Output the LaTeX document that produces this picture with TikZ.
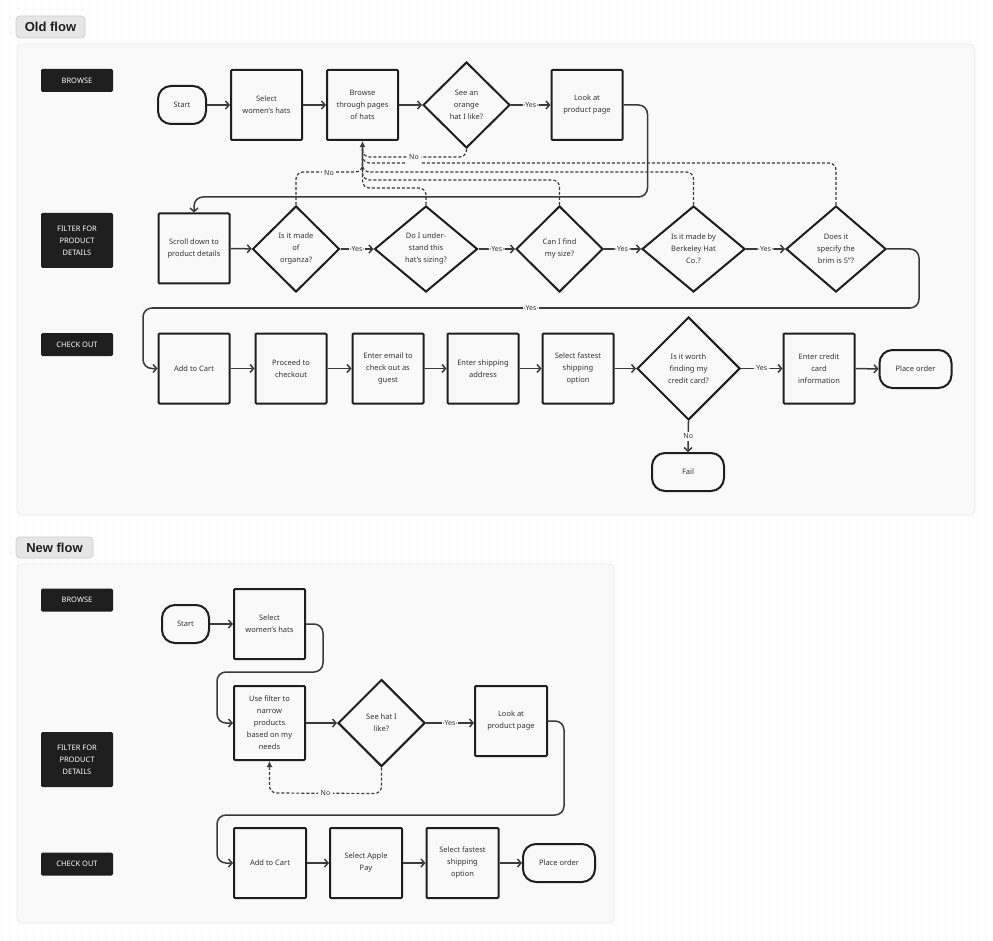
\documentclass[tikz,border=0pt]{standalone}
\usepackage{fontspec}
\setmainfont{Noto Sans}
\newfontfamily\headfont{Liberation Sans}
\usetikzlibrary{shapes.geometric,arrows.meta,patterns.meta}
\definecolor{ink}{HTML}{1E1E1E}
\definecolor{lin}{HTML}{3A3A3A}
\definecolor{txt}{HTML}{333333}
\definecolor{panel}{HTML}{F9F9F9}
\definecolor{panelb}{HTML}{EAEAEA}
\definecolor{pillc}{HTML}{E6E6E6}
\definecolor{pillb}{HTML}{CDCDCD}
\definecolor{dotc}{HTML}{DDDDDD}
\tikzdeclarepattern{
  name=gdots,
  type=uncolored,
  bounding box={(0pt,0pt) and (8pt,8pt)},
  tile size={(8pt,8pt)},
  code={\fill (4pt,4pt) circle (0.65pt);}
}
\tikzset{
  stepbox/.style={draw=ink, fill=panel, line width=2pt, rounded corners=1pt,
    minimum width=71pt, minimum height=70pt, inner sep=0pt, align=center,
    text=txt, font=\fontsize{7.5}{12}\selectfont},
  term/.style={draw=ink, fill=panel, line width=2pt, rounded corners=13pt,
    minimum width=72pt, minimum height=38pt, inner sep=0pt, align=center,
    text=txt, font=\fontsize{7.5}{12}\selectfont},
  dia/.style={draw=ink, fill=panel, diamond, line width=2pt, inner sep=0pt,
    align=center, text=txt, font=\fontsize{7.5}{12}\selectfont},
  lane/.style={fill=ink, rounded corners=1.5pt, minimum width=72pt, inner sep=0pt,
    text=white, align=center, font=\fontsize{7.5}{12}\selectfont},
  panelbox/.style={fill=panel, draw=panelb, line width=0.8pt, rounded corners=5pt},
  pillbox/.style={fill=pillc, draw=pillb, line width=0.8pt, rounded corners=4pt, inner sep=0pt,
    font=\headfont\fontsize{13}{15}\selectfont\bfseries, text=ink},
  arr/.style={draw=lin, line width=1.5pt, rounded corners=9pt,
    -{Straight Barb[length=3.5pt,width=8pt]}},
  fb/.style={draw=lin, line width=1.2pt, dash pattern=on 3pt off 2pt, rounded corners=7pt},
  fbtip/.style={fb, -{Latex[length=6pt,width=6pt]}},
  lbl/.style={fill=panel, inner xsep=2.5pt, inner ysep=2pt, text=txt, font=\fontsize{7}{8}\selectfont},
}
\begin{document}
\begin{tikzpicture}[x=1pt,y=-1pt]
\useasboundingbox (0,0) rectangle (993,941);
\fill[white] (0,0) rectangle (993,941);
\fill[pattern=gdots, pattern color=dotc] (0,0) rectangle (993,941);

% ---------------- OLD FLOW ----------------
\draw[panelbox] (17,44) rectangle (975,515);
\node[pillbox, minimum width=69pt, minimum height=22pt] (oldpill) at (50.5,27) {Old flow};

\node[lane, minimum height=23pt] (lb1) at (77,80.5) {BROWSE};
\node[lane, minimum height=55pt] (lf1) at (77,240.5) {FILTER FOR\\PRODUCT\\DETAILS};
\node[lane, minimum height=23pt] (lc1) at (77,344.5) {CHECK OUT};

\node[term, minimum width=48pt] (start) at (182,105) {Start};
\node[stepbox] (selw) at (266.5,105) {Select\\women’s hats};
\node[stepbox] (browse) at (362.5,105) {Browse\\through pages\\of hats};
\node[dia, minimum width=87pt, minimum height=86pt] (dorange) at (466.5,105) {See an\\orange\\hat I like?};
\node[stepbox] (look) at (587,105) {Look at\\product page};

\node[stepbox] (scroll) at (194,248.5) {Scroll down to\\product details};
\node[dia, minimum width=87pt, minimum height=86pt] (dorg) at (296,249) {Is it made\\of\\organza?};
\node[dia, minimum width=103pt, minimum height=86pt] (dund) at (426,249) {Do I under-\\stand this\\hat’s sizing?};
\node[dia, minimum width=87pt, minimum height=86pt] (dsize) at (559.5,249) {Can I find\\my size?};
\node[dia, minimum width=103pt, minimum height=86pt] (dberk) at (693.5,249) {Is it made by\\Berkeley Hat\\Co.?};
\node[dia, minimum width=100pt, minimum height=86pt] (dbrim) at (836,249) {Does it\\specify the\\brim is 5”?};

\node[stepbox] (cart) at (194,368.5) {Add to Cart};
\node[stepbox] (proc) at (291,368.5) {Proceed to\\checkout};
\node[stepbox] (email) at (388,368.5) {Enter email to\\check out as\\guest};
\node[stepbox] (ship) at (483,368.5) {Enter shipping\\address};
\node[stepbox] (fast) at (578,368.5) {Select fastest\\shipping\\option};
\node[dia, minimum width=103pt, minimum height=103pt] (dworth) at (688.5,368.5) {Is it worth\\finding my\\credit card?};
\node[stepbox] (card) at (819,368.5) {Enter credit\\card\\information};
\node[term] (place) at (915.5,369) {Place order};
\node[term] (fail) at (688,472) {Fail};

% solid connectors
\draw[arr] (start) -- (selw);
\draw[arr] (selw) -- (browse);
\draw[arr] (browse) -- (dorange);
\draw[arr] (dorange) -- node[lbl]{Yes} (look);
\draw[arr] (look.east) -- ++(24,0) -- ++(0,92) -| (scroll.north);
\draw[arr] (scroll) -- (dorg);
\draw[arr] (dorg) -- node[lbl]{Yes} (dund);
\draw[arr] (dund) -- node[lbl]{Yes} (dsize);
\draw[arr] (dsize) -- node[lbl]{Yes} (dberk);
\draw[arr] (dberk) -- node[lbl]{Yes} (dbrim);
\draw[arr] (dbrim.east) -- ++(32,0) -- ++(0,59) -- node[lbl]{Yes} (143,308) |- (cart.west);
\draw[arr] (cart) -- (proc);
\draw[arr] (proc) -- (email);
\draw[arr] (email) -- (ship);
\draw[arr] (ship) -- (fast);
\draw[arr] (fast) -- (dworth);
\draw[arr] (dworth) -- node[lbl]{Yes} (card);
\draw[arr] (card) -- (place);
\draw[arr] (dworth.south) -- node[lbl]{No} (fail.north);

% dashed feedback connectors
\draw[fb, shorten >=4pt] (dbrim.north) -- ++(0,-42) -| (browse.south);
\draw[fb, shorten >=4pt] (dberk.north) -- ++(0,-33) -| (browse.south);
\draw[fb, shorten >=4pt] (dsize.north) -- ++(0,-25) -| (browse.south);
\draw[fb, shorten >=4pt] (dund.north) -- ++(0,-17) -| (browse.south);
\draw[fb, shorten >=4pt] (dorg.north) -- ++(0,-33) -| (browse.south);
\draw[fbtip] (dorange.south) -- ++(0,8) -| (browse.south);
\node[lbl, inner ysep=5pt] (no1) at (414,157) {No};
\node[lbl] (no2) at (329,173) {No};

% ---------------- NEW FLOW ----------------
\draw[panelbox] (17,564) rectangle (614,923);
\node[pillbox, minimum width=77pt, minimum height=21pt] (newpill) at (54.5,547.5) {New flow};

\node[lane, minimum height=23pt] (lb2) at (77,600) {BROWSE};
\node[lane, minimum height=55pt] (lf2) at (77,759.5) {FILTER FOR\\PRODUCT\\DETAILS};
\node[lane, minimum height=23pt] (lc2) at (77,864) {CHECK OUT};

\node[term, minimum width=47pt] (nstart) at (185.5,624) {Start};
\node[stepbox] (nselw) at (269.5,624) {Select\\women’s hats};
\node[stepbox, minimum height=74pt] (nfilter) at (269.5,723) {Use filter to\\narrow\\products\\based on my\\needs};
\node[dia, minimum width=87pt, minimum height=87pt] (ndia) at (381.5,723) {See hat I\\like?};
\node[stepbox, minimum width=72pt] (nlook) at (511,721) {Look at\\product page};
\node[stepbox, minimum width=72pt] (ncart) at (270,863) {Add to Cart};
\node[stepbox, minimum width=72pt] (npay) at (366,863) {Select Apple\\Pay};
\node[stepbox, minimum width=72pt] (nfast) at (462.5,863) {Select fastest\\shipping\\option};
\node[term] (nplace) at (559,863) {Place order};

\draw[arr] (nstart) -- (nselw);
\draw[arr] (nselw.east) -- ++(17,0) -- ++(0,48) -- (217,672) |- (nfilter.west);
\draw[arr] (nfilter) -- (ndia);
\draw[arr] (ndia.east) -- node[lbl]{Yes} (nlook.west |- ndia.east);
\draw[arr] (nlook.east |- 0,721) -- ++(16,0) -- ++(0,94) -- (217,815) |- (ncart.west);
\draw[arr] (ncart) -- (npay);
\draw[arr] (npay) -- (nfast);
\draw[arr] (nfast) -- (nplace);
\draw[fbtip] (ndia.south) -- ++(0,26) -- node[lbl]{No} (nfilter.south |- 0,793) -- (nfilter.south);
\end{tikzpicture}
\end{document}
